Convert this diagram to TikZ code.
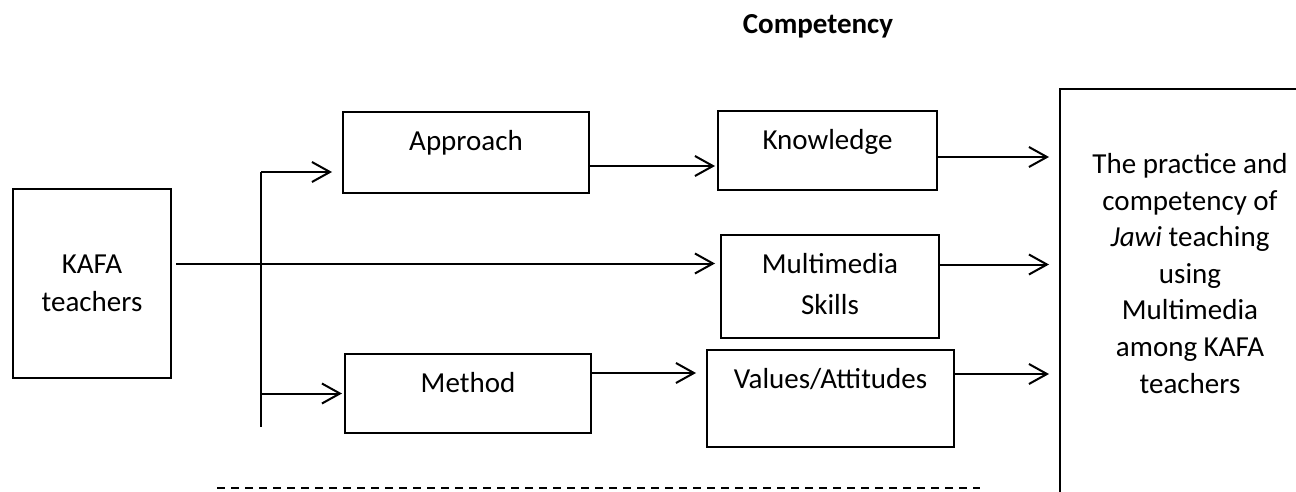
\documentclass[tikz,border=0pt]{standalone}
\usepackage{fontspec}
\setmainfont{Carlito}
\usepackage{tikz}
\usetikzlibrary{arrows.meta}

\begin{document}
\begin{tikzpicture}[x=0.5pt, y=-0.5pt,
					>={Straight Barb[length=9pt, width=10pt]},
					line width=1pt,
					font=\fontsize{14.5pt}{18.3pt}\selectfont,
					every edge/.append style={->},
					box/.style={draw, rectangle, anchor=north, align=center, inner sep=0pt, text height=19.2pt}]

	\useasboundingbox (0,0) rectangle (1296,492);
	\clip (0,0) rectangle (1296,492);

	\node[font=\fontsize{14.5pt}{18.3pt}\selectfont\bfseries] (title) at (818,26) {Competency};
	\node[draw, minimum width=79pt, minimum height=94.5pt, inner sep=0pt, align=center] (kafa) at (92,283.5) {KAFA\\[0.7pt] teachers};
	\node[box, minimum width=123pt, text depth=21.3pt] (approach) at (466,111) {Approach};
	\node[box, minimum width=123pt, text depth=20.3pt] (method) at (468,353) {Method};
	\node[box, minimum width=109.5pt, text depth=20.3pt] (knowledge) at (827.5,110) {Knowledge};
	\node[box, minimum width=109pt, text height=39.7pt, text depth=11.8pt] (multimedia) at (830,234) {Multimedia\\[2.2pt] Skills};
	\node[box, minimum width=123.5pt, text depth=29.3pt] (values) at (830.5,349) {Values/Attitudes};
	\node[box, minimum width=130pt, text height=152pt, text depth=54pt] (result) at (1190,88)
		{The practice and\\ competency of\\ \textit{Jawi} teaching\\ using\\ Multimedia\\ among KAFA\\ teachers};

	\coordinate (btop) at (261,172);
	\coordinate (bbot) at (261,427);
	\coordinate (kin) at (kafa.east |- 0,263.5);
	\coordinate (aout) at ([yshift=-6.75pt]approach.east);
	\coordinate (mout) at ([yshift=10.25pt]method.east);
	\coordinate (kout) at ([yshift=-3.25pt]knowledge.east);
	\coordinate (mmout) at ([yshift=11pt]multimedia.east);
	\coordinate (vout) at ([yshift=12.25pt]values.east);
	\coordinate (dashL) at (217,488);
	\coordinate (dashR) at (980,488);

	\draw (btop) -- (bbot);
	\draw	(btop) edge [shorten >=5pt] (btop -| approach.west)
			(bbot |- method.west) edge [shorten >=1pt] (method.west)
			(kin) edge [shorten <=2pt, shorten >=2.5pt] (kin -| multimedia.west)
			(aout) edge [shorten >=1pt] (aout -| knowledge.west)
			(mout) edge [shorten >=5pt] (mout -| values.west)
			(kout) edge [shorten >=5pt] (kout -| result.west)
			(mmout) edge [shorten >=5pt] (mmout -| result.west)
			(vout) edge [shorten >=5pt] (vout -| result.west)
;
	\draw[dash pattern=on 4pt off 3pt] (dashL) -- (dashR);
\end{tikzpicture}
\end{document}
